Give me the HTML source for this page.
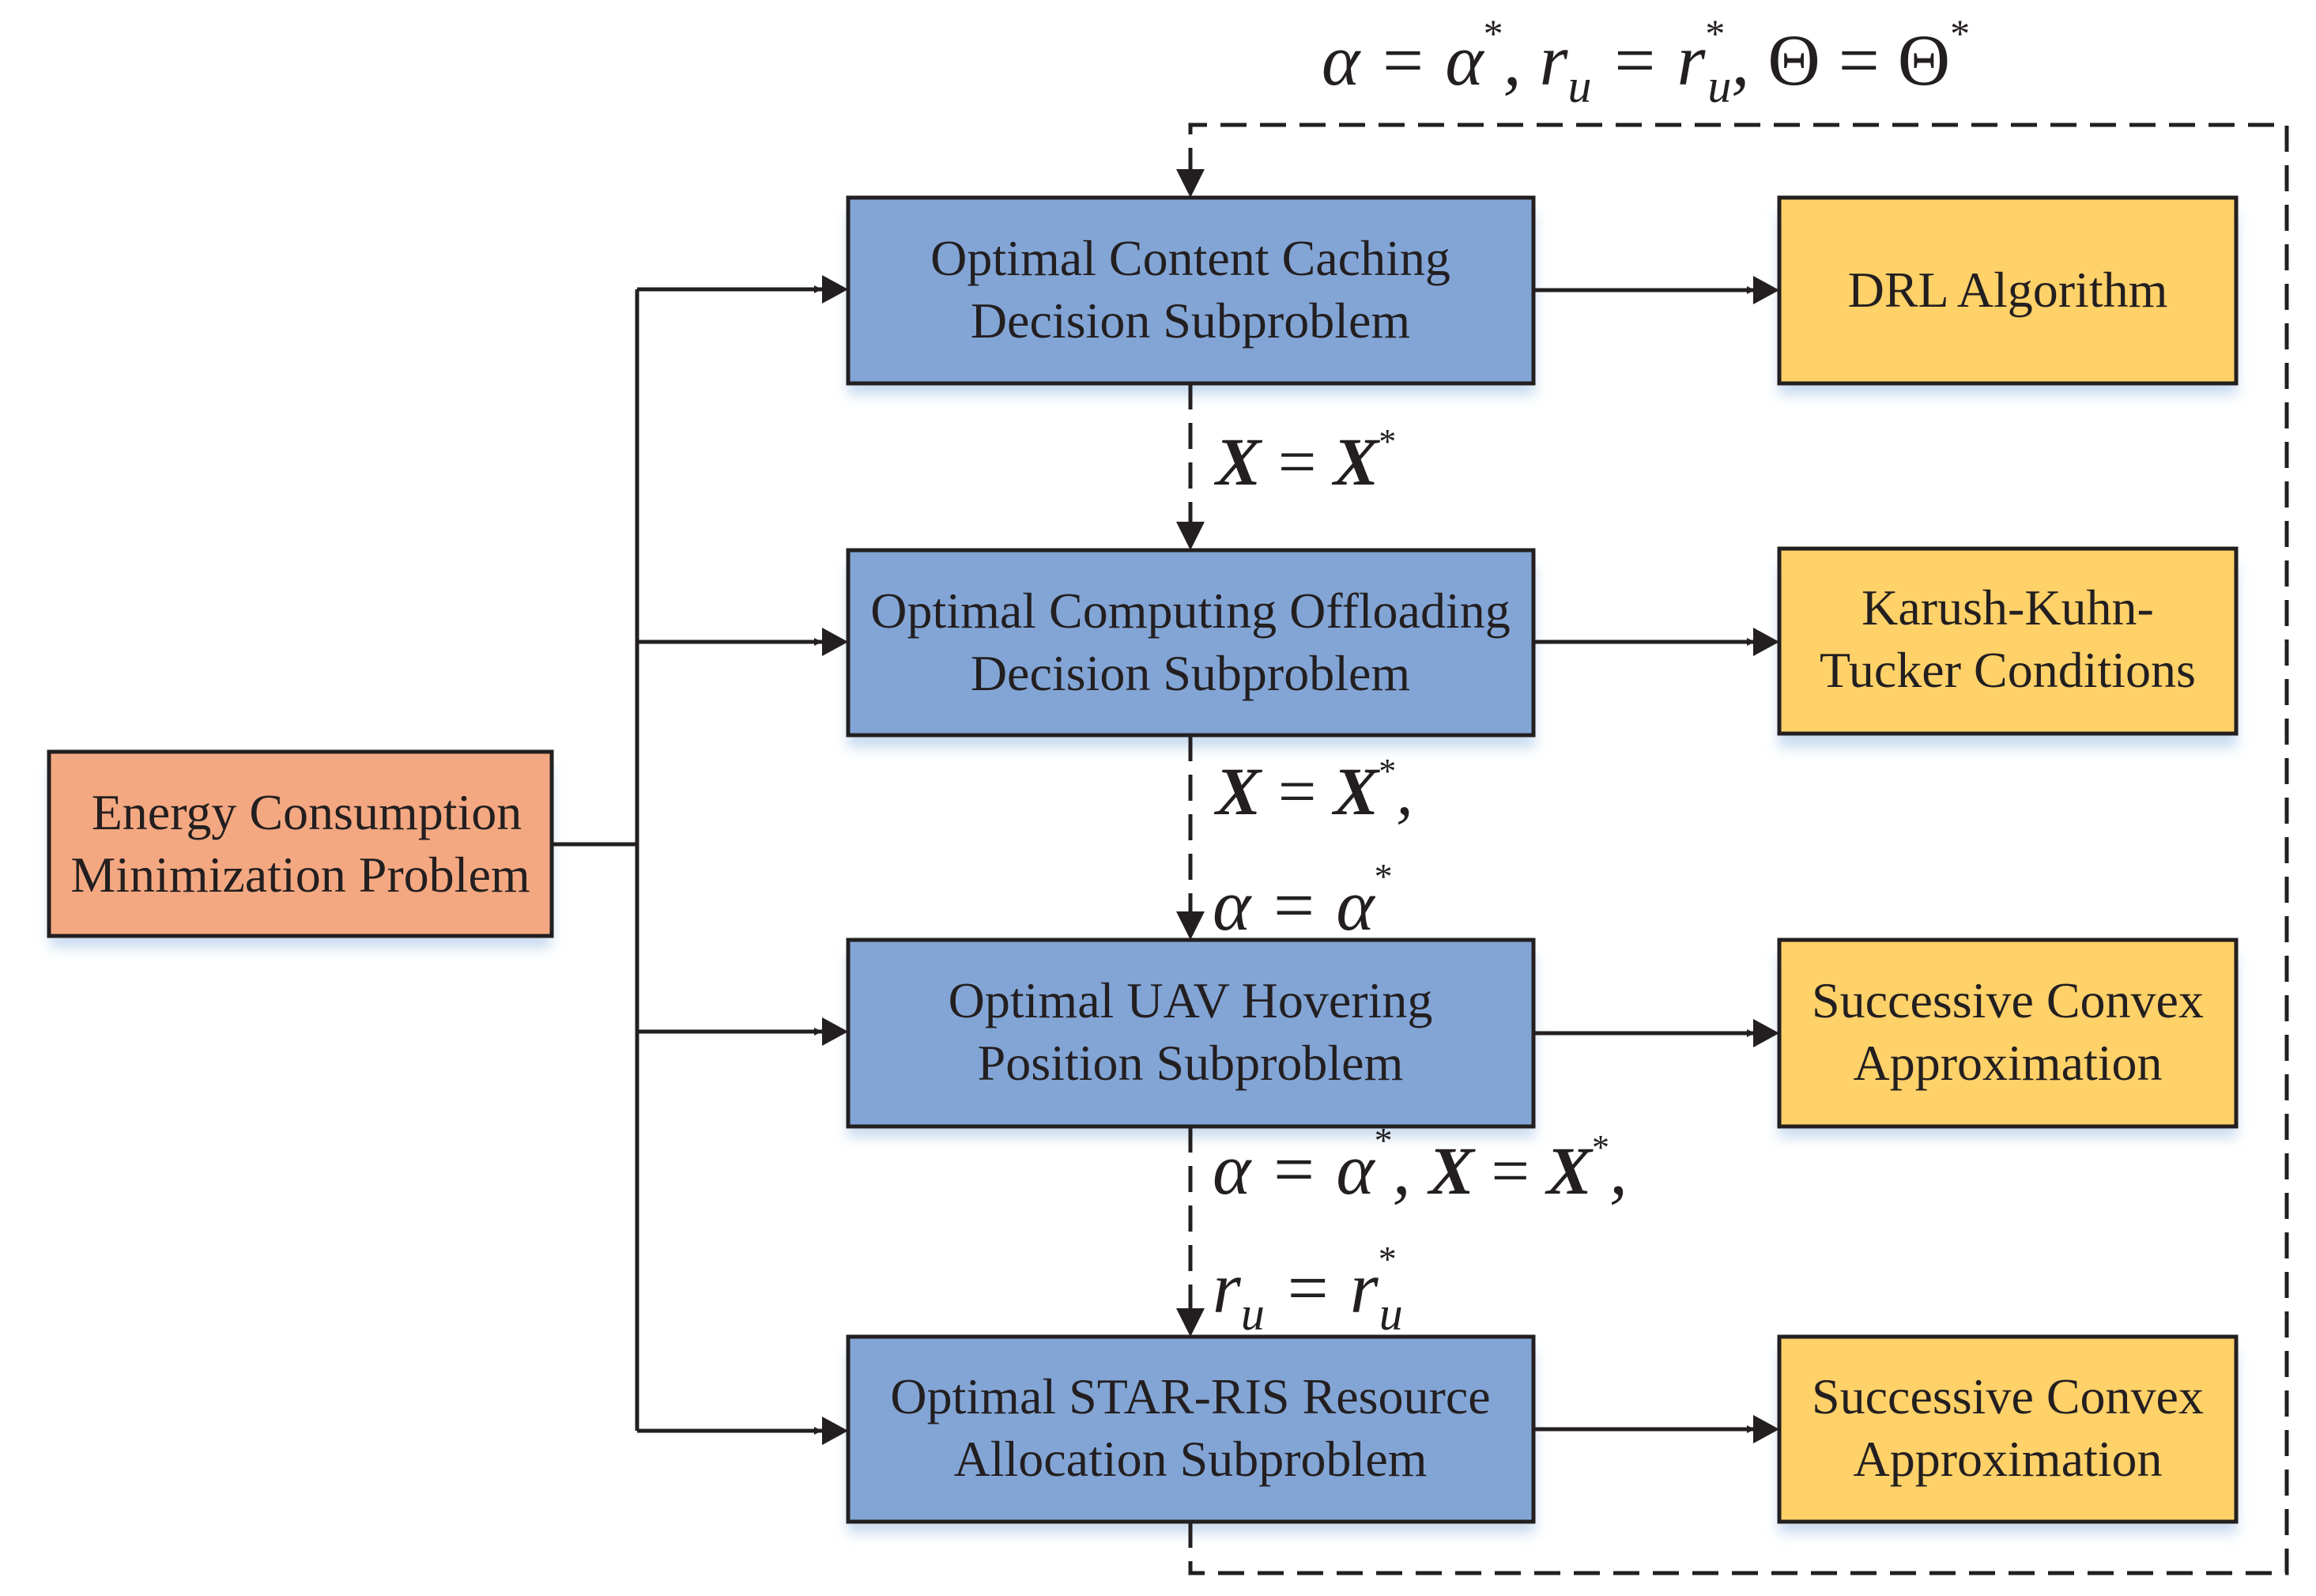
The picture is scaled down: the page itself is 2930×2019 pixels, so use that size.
<!DOCTYPE html>
<html><head><meta charset="utf-8"><style>
html,body{margin:0;padding:0;background:#fff;}
svg{display:block;}
text{font-family:"Liberation Serif",serif;fill:#231f20;}
</style></head><body>
<svg width="2930" height="2019" viewBox="0 0 2930 2019" xmlns="http://www.w3.org/2000/svg">
<defs>
<filter id="sh" x="-10%" y="-10%" width="120%" height="140%"><feGaussianBlur stdDeviation="8"/></filter>
<marker id="ah" markerWidth="10" markerHeight="10" refX="10" refY="5" orient="auto" markerUnits="userSpaceOnUse" viewBox="0 0 10 10"><path d="M0,0 L10,5 L0,10 z" fill="#231f20"/></marker>
</defs>
<g fill="#c9dcf0" filter="url(#sh)">
<rect x="1072" y="268" width="870" height="232"/>
<rect x="1072" y="714" width="870" height="232"/>
<rect x="1072" y="1207" width="870" height="232"/>
<rect x="1072" y="1708" width="870" height="232"/>
<rect x="2250" y="268" width="580" height="232"/>
<rect x="2250" y="714" width="580" height="232"/>
<rect x="2250" y="1207" width="580" height="232"/>
<rect x="2250" y="1708" width="580" height="232"/>
<rect x="63" y="967" width="634" height="232"/>
</g>
<g stroke="#231f20" stroke-width="5">
<rect x="1073" y="250" width="867" height="235" fill="#83a5d6"/>
<rect x="1073" y="696" width="867" height="234" fill="#83a5d6"/>
<rect x="1073" y="1189" width="867" height="236" fill="#83a5d6"/>
<rect x="1073" y="1691" width="867" height="234" fill="#83a5d6"/>
<rect x="2251" y="250" width="578" height="235" fill="#fed169"/>
<rect x="2251" y="694" width="578" height="234" fill="#fed169"/>
<rect x="2251" y="1189" width="578" height="236" fill="#fed169"/>
<rect x="2251" y="1691" width="578" height="234" fill="#fed169"/>
<rect x="62" y="951" width="636" height="233" fill="#f4a881"/>
</g>
<!-- solid connectors -->
<g stroke="#231f20" stroke-width="5" fill="none">
<path d="M698 1068 H806 M806 366 V1810"/>
<path d="M806 366 H1040" marker-end="url(#ah)"/>
<path d="M806 812 H1040" marker-end="url(#ah)"/>
<path d="M806 1305 H1040" marker-end="url(#ah)"/>
<path d="M806 1810 H1040" marker-end="url(#ah)"/>
<path d="M1940 367 H2220" marker-end="url(#ah)"/>
<path d="M1940 812 H2220" marker-end="url(#ah)"/>
<path d="M1940 1307 H2220" marker-end="url(#ah)"/>
<path d="M1940 1808 H2220" marker-end="url(#ah)"/>
</g>
<g fill="#231f20">
<path d="M1040 348 L1073 366 L1040 384 z"/>
<path d="M1040 794 L1073 812 L1040 830 z"/>
<path d="M1040 1287 L1073 1305 L1040 1323 z"/>
<path d="M1040 1792 L1073 1810 L1040 1828 z"/>
<path d="M2218 349 L2251 367 L2218 385 z"/>
<path d="M2218 794 L2251 812 L2218 830 z"/>
<path d="M2218 1289 L2251 1307 L2218 1325 z"/>
<path d="M2218 1790 L2251 1808 L2218 1826 z"/>
<path d="M1488 214 L1506 250 L1524 214 z"/>
<path d="M1488 660 L1506 696 L1524 660 z"/>
<path d="M1488 1153 L1506 1189 L1524 1153 z"/>
<path d="M1488 1655 L1506 1691 L1524 1655 z"/>
</g>
<!-- dashed -->
<g stroke="#231f20" stroke-width="5" fill="none" stroke-dasharray="33 17">
<path d="M1506 1925 V1990 H2893 V158 H1506 V214"/>
<path d="M1506 485 V660"/>
<path d="M1506 930 V1153"/>
<path d="M1506 1425 V1655"/>
</g>
<!-- box text -->
<g font-size="64" text-anchor="middle">
<text x="1506" y="348">Optimal Content Caching</text>
<text x="1506" y="427">Decision Subproblem</text>
<text x="1506" y="794">Optimal Computing Offloading</text>
<text x="1506" y="873">Decision Subproblem</text>
<text x="1506" y="1287">Optimal UAV Hovering</text>
<text x="1506" y="1366">Position Subproblem</text>
<text x="1506" y="1788">Optimal STAR-RIS Resource</text>
<text x="1506" y="1867">Allocation  Subproblem</text>
<text x="2540" y="388">DRL Algorithm</text>
<text x="2540" y="790">Karush-Kuhn-</text>
<text x="2540" y="869">Tucker Conditions</text>
<text x="2540" y="1287">Successive Convex</text>
<text x="2540" y="1366">Approximation</text>
<text x="2540" y="1788">Successive Convex</text>
<text x="2540" y="1867">Approximation</text>
<text x="388" y="1049">Energy Consumption</text>
<text x="380" y="1128">Minimization Problem</text>
</g>
<!-- formulas -->
<g font-style="italic">
<text x="1672" y="107" font-size="92">α = α<tspan font-size="50" dy="-48" font-style="normal">*</tspan><tspan dy="48">, r</tspan><tspan font-size="60" dy="22">u</tspan><tspan dy="-22"> = r</tspan><tspan font-size="50" dy="-48" font-style="normal">*</tspan><tspan font-size="60" dy="70" dx="-22">u</tspan><tspan dy="-22">, </tspan><tspan font-style="normal">Θ = Θ</tspan><tspan font-size="50" dy="-48" font-style="normal">*</tspan></text>
<text x="1538" y="613" font-size="86" font-weight="bold">X <tspan font-weight="normal" font-style="normal">=</tspan> X<tspan font-size="44" dy="-40" font-weight="normal" font-style="normal">*</tspan></text>
<text x="1538" y="1030" font-size="86" font-weight="bold">X <tspan font-weight="normal" font-style="normal">=</tspan> X<tspan font-size="44" dy="-40" font-weight="normal" font-style="normal">*</tspan><tspan dy="40" font-weight="normal">,</tspan></text>
<text x="1534" y="1176" font-size="92">α = α<tspan font-size="46" dy="-52" font-style="normal">*</tspan></text>
<text x="1534" y="1510" font-size="92">α = α<tspan font-size="46" dy="-52" font-style="normal">*</tspan><tspan dy="52">, </tspan><tspan font-weight="bold" font-size="86">X </tspan><tspan font-style="normal" font-size="86">=</tspan><tspan font-weight="bold" font-size="86"> X</tspan><tspan font-size="44" dy="-44" font-style="normal">*</tspan><tspan dy="44">,</tspan></text>
<text x="1534" y="1660" font-size="92">r<tspan font-size="60" dy="22">u</tspan><tspan dy="-22"> = r</tspan><tspan font-size="46" dy="-52" font-style="normal">*</tspan><tspan font-size="60" dy="74" dx="-22">u</tspan></text>
</g>
</svg>
</body></html>
